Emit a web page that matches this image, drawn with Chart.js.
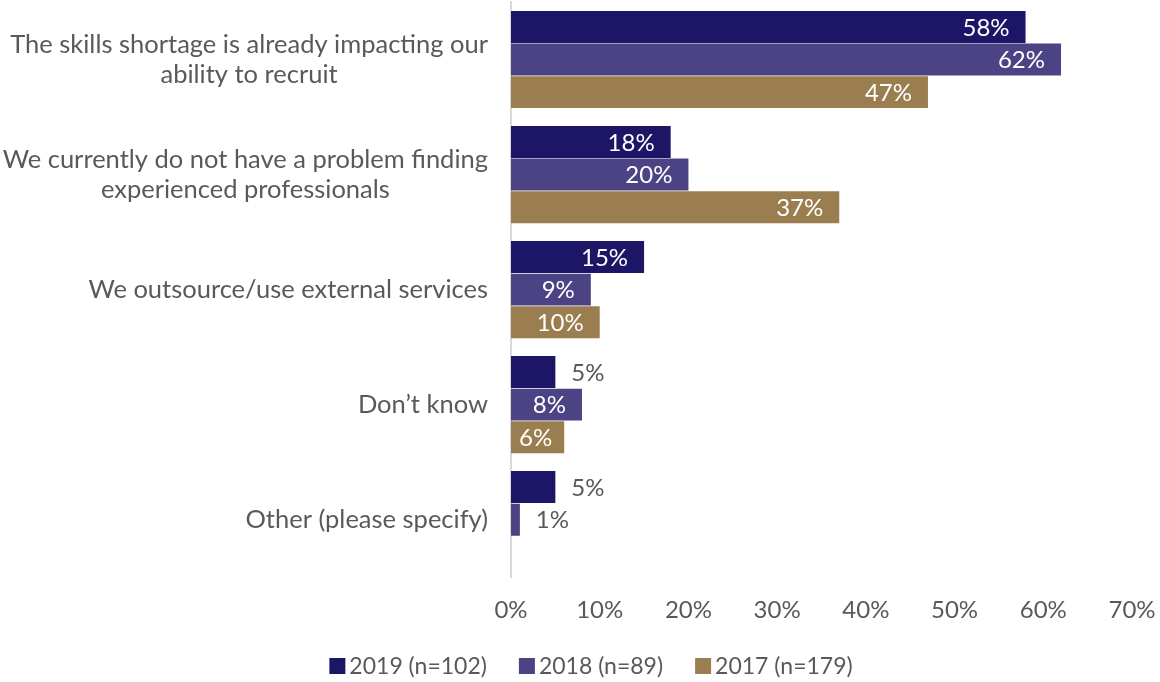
<!DOCTYPE html>
<html>
<head>
<meta charset="utf-8">
<script src="https://cdn.jsdelivr.net/npm/chart.js@4/dist/chart.umd.min.js"></script>
<style>
  html, body { margin: 0; padding: 0; background: #ffffff; }
  #wrap { width: 1160px; height: 682px; position: relative; }
</style>
</head>
<body>
<div id="wrap"><canvas id="chart"></canvas></div>
<script>
// Survey answers (category labels, one array entry per wrapped line)
const categories = [
  ["The skills shortage is already impacting our", "ability to recruit"],
  ["We currently do not have a problem finding", "experienced professionals"],
  ["We outsource/use external services"],
  ["Don\u2019t know"],
  ["Other (please specify)"]
];
const seriesNames = ["2019 (n=102)", "2018 (n=89)", "2017 (n=179)"];
const values2019 = [58, 18, 15, 5, 5];
const values2018 = [62, 20, 9, 8, 1];
const values2017 = [47, 37, 10, 6, null];
const xTickValues = [0, 10, 20, 30, 40, 50, 60, 70];

const FONT = "Lato, 'Open Sans', sans-serif";
const GREY = "#595959";
const COLORS = ["#1d1565", "#4b4383", "#9b7e50"];

// Category labels: block right-aligned to the axis, lines centred within the block
const categoryLabels = {
  id: "categoryLabels",
  afterDraw(chart) {
    const { ctx } = chart;
    const y = chart.scales.y;
    ctx.save();
    ctx.font = "25.5px " + FONT;
    ctx.fillStyle = GREY;
    ctx.textAlign = "center";
    ctx.textBaseline = "middle";
    const right = chart.chartArea.left - 23;
    const lh = 30;
    categories.forEach((lines, i) => {
      const cy = y.getPixelForValue(i);
      const w = Math.max(...lines.map(l => ctx.measureText(l).width));
      const cx = right - w / 2;
      const y0 = cy - (lines.length - 1) * lh / 2;
      lines.forEach((l, k) => ctx.fillText(l, cx, y0 + k * lh));
    });
    ctx.restore();
  }
};

// Value labels: inside the bar end (white) when it fits, else just past the end (grey)
const valueLabels = {
  id: "valueLabels",
  afterDatasetsDraw(chart) {
    const { ctx } = chart;
    ctx.save();
    ctx.font = "24px " + FONT;
    ctx.textBaseline = "middle";
    ctx.textAlign = "left";
    chart.data.datasets.forEach((ds, di) => {
      const meta = chart.getDatasetMeta(di);
      meta.data.forEach((bar, i) => {
        const v = ds.data[i];
        if (v === null || v === undefined) return;
        const text = v + "%";
        const w = ctx.measureText(text).width;
        if (v >= 6) {
          ctx.fillStyle = "#ffffff";
          const x = Math.max(bar.x - 16 - w, bar.base + 8);
          ctx.fillText(text, x, bar.y + 1);
        } else {
          ctx.fillStyle = GREY;
          ctx.fillText(text, bar.x + 16, bar.y + 1);
        }
      });
    });
    ctx.restore();
  }
};

// Series key along the bottom: square swatch, short gap, name; wide gap between entries
const bottomKey = {
  id: "bottomKey",
  afterDraw(chart) {
    const { ctx } = chart;
    const box = 16, gap = 4, spacing = 32, cy = 666;
    ctx.save();
    ctx.font = "23px " + FONT;
    ctx.textBaseline = "middle";
    ctx.textAlign = "left";
    const items = chart.data.datasets.map(ds => ({
      text: ds.label, color: ds.backgroundColor, w: ctx.measureText(ds.label).width
    }));
    const total = items.reduce((s, it) => s + box + gap + it.w, 0) + spacing * (items.length - 1);
    let x = chart.width / 2 + 11 - total / 2;
    items.forEach(it => {
      ctx.fillStyle = it.color;
      ctx.fillRect(x, cy - box / 2, box, box);
      ctx.fillStyle = GREY;
      ctx.fillText(it.text, x + box + gap, cy + 1);
      x += box + gap + it.w + spacing;
    });
    ctx.restore();
  }
};

const seriesValues = [values2019, values2018, values2017];

new Chart(document.getElementById("chart"), {
  type: "bar",
  data: {
    labels: categories.map(c => c.join(" ")),
    datasets: seriesNames.map((name, k) => ({
      label: name,
      data: seriesValues[k],
      backgroundColor: COLORS[k],
      borderWidth: 0,
      categoryPercentage: 0.85,
      barPercentage: 0.98
    }))
  },
  options: {
    indexAxis: "y",
    responsive: true,
    maintainAspectRatio: false,
    animation: false,
    layout: { padding: { top: 2, right: 0, bottom: 38, left: 0 } },
    scales: {
      x: {
        min: 0,
        max: 70,
        afterBuildTicks(scale) {
          scale.ticks = xTickValues.map(v => ({ value: v }));
        },
        afterFit(scale) { scale.paddingRight = 28; },
        grid: { display: false, drawTicks: false },
        border: { display: false },
        ticks: {
          padding: 19,
          color: GREY,
          font: { family: FONT, size: 24 },
          callback: v => v + "%"
        }
      },
      y: {
        grid: { display: false, drawTicks: false },
        border: { display: true, color: "#d9d9d9", width: 2 },
        ticks: { display: false },
        afterFit(scale) { scale.width = 511; }
      }
    },
    plugins: {
      legend: { display: false },
      tooltip: { enabled: false }
    }
  },
  plugins: [categoryLabels, valueLabels, bottomKey]
});
</script>
</body>
</html>
